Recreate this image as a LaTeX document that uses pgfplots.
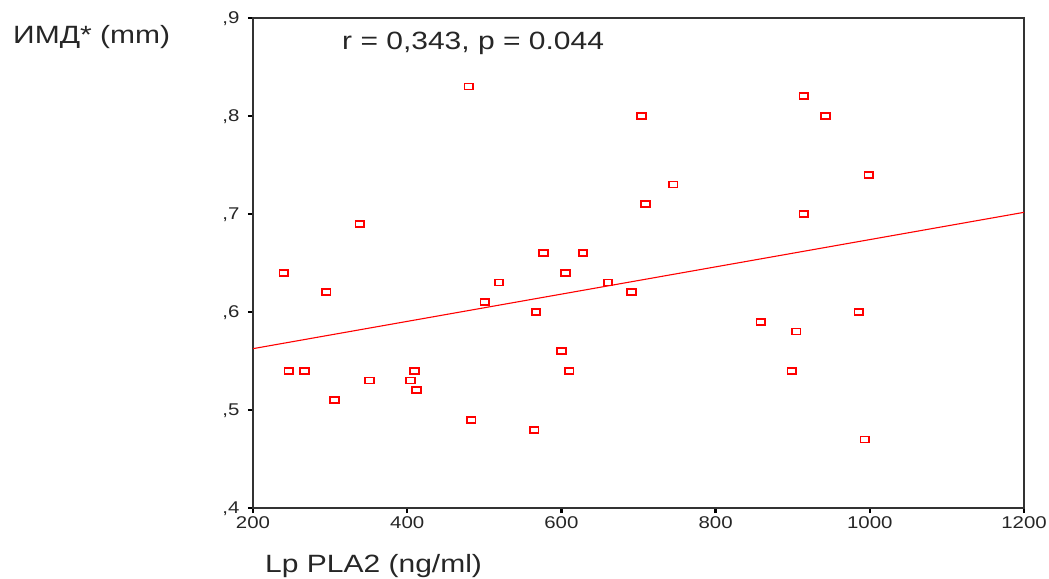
\documentclass[border=0pt]{standalone}
\usepackage{fontspec}
\setmainfont{Liberation Sans}[FakeStretch=1.2]
\usepackage{pgfplots}
\pgfplotsset{compat=1.18}
\begin{document}
\begin{tikzpicture}
\path[use as bounding box] (-253bp,-71bp) rectangle (796bp,508bp);
\begin{axis}[
  scale only axis, width=771bp, height=490bp,
  xmin=200, xmax=1200, ymin=0.4, ymax=0.9,
  axis line style={line width=1.5bp, black!80},
  tick align=outside, xtick pos=bottom, ytick pos=left,
  major tick length=5bp,
  tick style={line width=2.5bp, black},
  xtick={200,400,600,800,1000,1200},
  xticklabels={200,400,600,800,1000,1200},
  ytick={0.4,0.5,0.6,0.7,0.8,0.9},
  yticklabels={{,4},{,5},{,6},{,7},{,8},{,9}},
  tick label style={font=\fontsize{17bp}{20bp}\selectfont, text=black!85},
  yticklabel style={xshift=-5bp, yshift=-1bp},
  clip=false,
]
\addplot[only marks, mark=square, mark size=3bp,
  mark options={xscale=1.45, line width=1.8bp, draw=red, fill=white}]
coordinates {
(240,0.64) (246.5,0.54) (267,0.54) (295,0.62) (305.5,0.51) (338.7,0.69)
(351,0.53) (404,0.53) (409.7,0.54) (412,0.52) (480,0.83) (483,0.49)
(500.6,0.61) (519,0.63) (564.7,0.48) (567,0.60) (577,0.66) (600,0.56)
(605,0.64) (610,0.54) (628,0.66) (660.4,0.63) (691,0.62) (703.6,0.80)
(708.8,0.71) (745,0.73) (858.7,0.59) (899,0.54) (904.5,0.58) (914.5,0.82)
(914.5,0.70) (942.6,0.80) (985.7,0.60) (998.7,0.74) (993.5,0.47)
};
\addplot[red, line width=1.1bp] coordinates {(200,0.5626) (1200,0.7017)};
\end{axis}
\node[anchor=west, inner sep=0pt, font=\fontsize{25bp}{30bp}\selectfont, text=black!85] at (-240bp,471bp) {ИМД* (mm)};
\node[anchor=west, inner sep=0pt, font=\fontsize{25bp}{30bp}\selectfont, text=black!85] at (12bp,-58bp) {Lp PLA2 (ng/ml)};
\node[anchor=west, inner sep=0pt, font=\fontsize{25bp}{30bp}\selectfont, text=black!85] at (89bp,465bp) {r = 0,343, p = 0.044};
\end{tikzpicture}
\end{document}
